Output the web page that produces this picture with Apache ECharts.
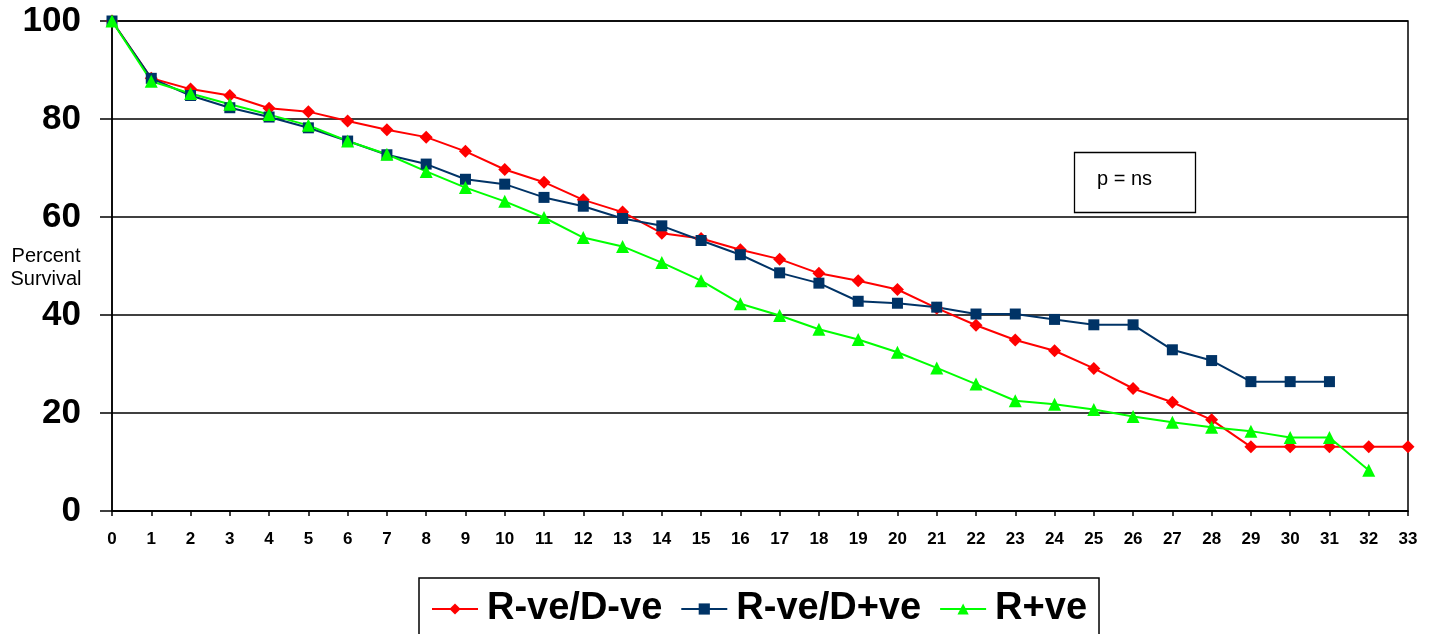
<!DOCTYPE html>
<html>
<head>
<meta charset="utf-8">
<script src="https://cdn.jsdelivr.net/npm/echarts@6/dist/echarts.min.js"></script>
<style>html,body{margin:0;padding:0;background:#fff}#c{width:1434px;height:634px}</style>
</head>
<body>
<div id="c"></div>
<script>
const months = [0,1,2,3,4,5,6,7,8,9,10,11,12,13,14,15,16,17,18,19,20,21,22,23,24,25,26,27,28,29,30,31,32,33];
const seriesNames = ['R-ve/D-ve','R-ve/D+ve','R+ve'];
const redValues = [100,88.3,86.1,84.8,82.2,81.5,79.6,77.8,76.3,73.4,69.7,67.1,63.5,61.0,56.7,55.6,53.3,51.4,48.5,47.0,45.2,41.4,37.9,34.9,32.7,29.1,25.0,22.2,18.6,13.1,13.1,13.1,13.1,13.1];
const blueValues = [100,88.3,84.8,82.3,80.4,78.2,75.5,72.7,70.8,67.7,66.7,64.0,62.2,59.7,58.2,55.2,52.3,48.6,46.5,42.8,42.4,41.6,40.2,40.2,39.1,38.0,38.0,32.9,30.7,26.4,26.4,26.4];
const greenValues = [100,87.7,85.2,83.0,80.9,78.7,75.5,72.8,69.3,66.0,63.2,59.9,55.8,54.0,50.7,47.0,42.3,39.9,37.1,35.0,32.4,29.2,25.9,22.5,21.8,20.7,19.3,18.1,17.1,16.3,15.0,15.0,8.3];
const yTicks = [0,20,40,60,80,100];

function pairs(vals){ return vals.map((v,i)=>[months[i], v]); }

const chart = echarts.init(document.getElementById('c'), null, {renderer:'canvas'});
const font = 'Liberation Sans, Arial, sans-serif';
chart.setOption({
  animation:false,
  backgroundColor:'#fff',
  textStyle:{fontFamily:font},
  grid:{left:112, right:26, top:21, bottom:123, show:true, borderColor:'#000', borderWidth:1.5, backgroundColor:'transparent'},
  xAxis:{
    type:'value', min:0, max:33, interval:1,
    axisLine:{lineStyle:{color:'#000', width:1.5}},
    axisTick:{show:true, length:5, lineStyle:{color:'#000', width:1.5}},
    axisLabel:{color:'#000', fontWeight:'bold', fontSize:17, margin:20, fontFamily:font},
    splitLine:{show:false}
  },
  yAxis:{
    type:'value', min:0, max:100, interval:20,
    axisLine:{show:true, lineStyle:{color:'#000', width:1.5}},
    axisTick:{show:true, length:12, lineStyle:{color:'#000', width:1.5}},
    axisLabel:{color:'#000', fontWeight:'bold', fontSize:35, margin:31, fontFamily:font,
      formatter:v=> yTicks.includes(v) ? String(v) : ''},
    splitLine:{show:true, lineStyle:{color:'#000', width:1.5}}
  },
  legend:{
    left:419, top:578,
    data:seriesNames,
    itemWidth:46, itemHeight:14, itemGap:18,
    padding:[12,12,30,12],
    borderColor:'#000', borderWidth:1.5,
    textStyle:{color:'#000', fontWeight:'bold', fontSize:38, fontFamily:font, padding:[0,0,0,4]}
  },
  series:[
    {name:seriesNames[0], type:'line', data:pairs(redValues), symbol:'diamond', symbolSize:13,
     itemStyle:{color:'#ff0000'}, lineStyle:{color:'#ff0000', width:2}},
    {name:seriesNames[1], type:'line', data:pairs(blueValues), symbol:'rect', symbolSize:11,
     itemStyle:{color:'#003366'}, lineStyle:{color:'#003366', width:2}},
    {name:seriesNames[2], type:'line', data:pairs(greenValues), symbol:'triangle', symbolSize:13,
     itemStyle:{color:'#00ff00'}, lineStyle:{color:'#00ff00', width:2}}
  ],
  graphic:[
    {type:'text', x:46, y:231, z:100, style:{text:'Percent\nSurvival', fill:'#000', font:'20px '+font, lineHeight:23,
      align:'center', verticalAlign:'top', backgroundColor:'#fff', padding:[14,2,2,2]}},
    {type:'rect', shape:{x:1074.5, y:152.5, width:121, height:60}, style:{fill:'#fff', stroke:'#000', lineWidth:1.3}},
    {type:'text', x:1097, y:179, style:{text:'p = ns', fill:'#000', font:'20px '+font, verticalAlign:'middle'}}
  ]
});
</script>
</body>
</html>
